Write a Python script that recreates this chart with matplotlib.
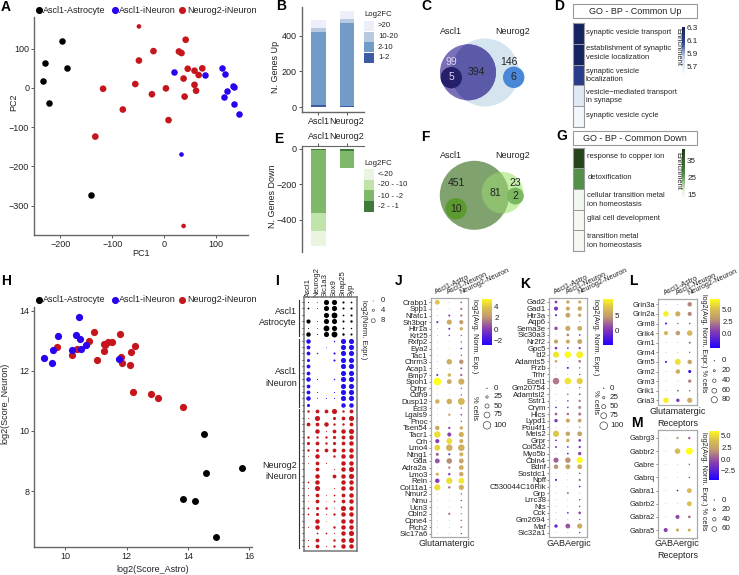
import numpy as np
import matplotlib
matplotlib.use("Agg")
import matplotlib.pyplot as plt
from matplotlib.colors import LinearSegmentedColormap
from matplotlib.patches import Circle, Rectangle
from matplotlib.transforms import ScaledTranslation

plt.rcParams['font.family'] = ['Liberation Sans', 'DejaVu Sans']
plt.rcParams['axes.unicode_minus'] = True

W, H = 739, 575
BLACK, BLUE, RED = '#000000', '#2a00f0', '#c4161c'
TXT = '#222222'

# --- A : PCA
a_black_x = [-198, -230, -233, -188, -222, -141]
a_black_y = [119, 63, 19, 52, -38, -273]
a_blue_x = [19, 79, 111, 116, 132, 135, 121, 115, 135, 143, 32]
a_blue_y = [40, 32, 52, 36, 5, 3, -9, -24, -42, -66, -168]
a_red_x = [-49, 41, -21, 28, 33, -49, 45, 73, 58, 66, 37, -56, 58, -118, 3, 61, -24, 39, -80, 8, -133, 37]
a_red_y = [157, 123, 94, 93, 89, 70, 49, 50, 44, 33, 24, 10, 8, -2, -1, -7, -16, -22, -55, -82, -124, -352]

# --- H : scores
h_black_x = [14.51, 15.75, 14.6, 13.85, 14.23, 14.91]
h_black_y = [9.89, 8.76, 8.6, 7.74, 7.66, 6.48]
h_blue_x = [10.46, 9.75, 10.35, 10.48, 10.68, 9.61, 10.23, 10.52, 9.29, 9.57, 11.76]
h_blue_y = [13.78, 13.17, 13.19, 13.04, 12.87, 12.68, 12.68, 12.71, 12.42, 12.27, 12.4]
h_red_x = [9.74, 10.95, 10.77, 10.37, 10.23, 11.04, 11.79, 11.26, 11.39, 11.52, 11.28, 11.25, 11.82, 11.86,
           12.12, 12.15, 12.29, 12.2, 12.8, 13.04, 13.83]
h_red_y = [12.8, 13.28, 12.98, 12.74, 12.52, 12.36, 13.21, 12.89, 12.94, 12.94, 12.86, 12.66, 12.46, 12.27,
           12.18, 12.61, 12.81, 11.31, 11.22, 11.09, 10.8]

# --- B / E : stacked bars
bar_names = ['Ascl1', 'Neurog2']
up_1_2 = [9, 6]
up_2_10 = [415, 465]
up_10_20 = [19, 25]
up_gt20 = [49, 45]
up_colors = ['#3d5aa6', '#729bc8', '#b7cae0', '#eceffa']
up_labels = ['>20', '10-20', '2-10', '1-2']
down_1_2 = [-10, -15]
down_2_10 = [-349, -91]
down_10_20 = [-103, -2]
down_gt20 = [-84, 0]
down_colors = ['#3f7a3a', '#7fb868', '#bfe3a8', '#eaf5e0']
down_labels = ['<-20', '-20 - -10', '-10 - -2', '-2 - -1']

# --- D / G : GO heatmaps
d_terms = ['synaptic vesicle transport', 'establishment of synaptic\nvesicle localization',
           'synaptic vesicle\nlocalization', 'vesicle\u2212mediated transport\nin synapse', 'synaptic vesicle cycle']
d_enrich = [6.3, 6.3, 6.12, 5.72, 5.62]
g_terms = ['response to copper ion', 'detoxification', 'cellular transition metal\nion homeostasis',
           'glial cell development', 'transition metal\nion homeostasis']
g_enrich = [40, 27, 15, 14, 14]

# --- I : marker dots
i_cols = ['Ascl1', 'Neurog2', 'Slc1a3', 'Sox9', 'Snap25', 'Syp']
i_astro = [[1, .3, 7, 7, 2.5, 2], [2, .5, 7, 7, 2.5, 2.5], [0, 0, 7, 8, 2, 2.5],
           [5.5, .5, 7, 7, 2.5, 3], [1, .3, 8, 7, 2, 1.5], [6, 1, 7, 8, 3, 2.5]]
i_ascl = [[6, 0, 0, 1.5, 7, 7], [5, 0, .3, 0, 7, 7], [5, 1.5, 0, 2.5, 7, 7], [4, 0, 0, 2.5, 7, 7],
          [5, 0, 0, 0, 7, 7], [5, 0, 0, 0, 7, 7], [6, .8, 0, 1.5, 7, 7], [5, 0, 0, 0, 7, 7],
          [5, 1, 0, 1, 7, 7], [6, .5, 1, 1, 7, 7], [4, 0, 0, 0, 6, 6]]
i_neurog = [[3, 5, 5, 7, 3, 5], [1, 7, 0, 4, 5, 7], [5, 5, 6, 3, 3, 5], [0, 6, 1, 5, 6, 7], [3, 3, 3, 4, 5, 6],
            [4, 5, 3, 4, 5, 6], [3, 4, 5, 5, 5, 6], [.5, 6, 0, 3, 6, 6], [.5, 5, 1, 0, 6, 6], [0, 5, 0, 1, 6, 7],
            [0, 6, 0, 5, 6, 7], [2, 6, 0, 0, 6, 6], [.7, 7, 0, 1, 6, 6], [1, 5, .5, 2, 5, 6], [.3, 5, .3, 2, 5, 6],
            [2, 4, 3, .5, 7, 6], [2, 4, 1, 3, 6, 6], [0, 6, .2, 0, 6, 6], [1, 6, 0, 3, 6, 6], [0, 2, 2, 1, 6, 7],
            [1, 5, 0, 3, 6, 7], [1.5, 5, 1, 3, 6, 6]]

# --- J .. M : dot plots
dot_cols = ['Ascl1-Astro', 'Ascl1-Neuron', 'Neurog2-Neuron']
j_genes = ['Crabp1', 'Spp1', 'Nfatc1', 'Sh3bgr', 'Htr1a', 'Krt25', 'Rxfp2', 'Eya2', 'Tac1', 'Chrm3', 'Acap1', 'Bmp7',
           'Spon1', 'Qrfpr', 'Cdh9', 'Dusp12', 'Ecl3', 'Lgals9', 'Pnoc', 'Tsen54', 'Tacr1', 'Crh', 'Lmo4', 'Ntng1',
           'Gda', 'Adra2a', 'Lmo3', 'Reln', 'Col11a1', 'Nmur2', 'Nmu', 'Ucn3', 'Cbln2', 'Cpne4', 'Plch2', 'Slc17a6']
j_pct = [[60, 2, 15], [2, 2, 25], [2, 20, 25], [20, 65, 50], [2, 20, 40], [2, 15, 10], [1, 1, 10], [1, 1, 15], [1, 1, 10],
         [2, 70, 55], [1, 1, 20], [20, 40, 25], [100, 60, 80], [1, 1, 10], [1, 1, 10], [55, 70, 90], [1, 1, 10], [1, 25, 15],
         [1, 1, 10], [55, 25, 40], [85, 50, 65], [50, 75, 50], [75, 85, 85], [35, 20, 50], [60, 70, 60], [1, 25, 60],
         [35, 25, 55], [55, 80, 75], [80, 25, 65], [1, 1, 10], [1, 1, 10], [1, 1, 10], [1, 25, 10], [1, 1, 15], [1, 1, 20],
         [1, 1, 10]]
j_expr = [[3.8, 1, .5], [1, 1, 1.5], [1, -.5, 1.5], [-1.5, 2.8, 2.2], [1, -1, 3], [1, .5, 0], [1, 1, -1], [1, 1, -1], [1, 1, -1],
          [1, 3, 2], [1, 1, .5], [-1, 3.2, 1], [5.4, 2.8, 3], [1, 1, -1], [1, 1, -1], [3, 3, 3.3], [1, 1, -1], [1, 2.5, -.5],
          [1, 1, -1], [2.8, .3, 3], [4.5, .2, 3], [0, 4.5, 3], [4.2, 3, 3], [.8, -1.5, 3.2], [.5, 1.8, 2.5], [1, 1.5, 3],
          [3, -.5, 2.8], [0, 4.5, 4.8], [4.5, 1, 3], [1, 1, -1], [1, 1, -1], [1, 1, -.5], [1, 1.5, 1], [1, 1, 1.5], [1, 1, 2],
          [1, 1, -1.5]]

k_genes = ['Gad2', 'Gad1', 'Htr3a', 'Aqp6', 'Sema3e', 'Slc30a3', 'Nr2f2', 'Gpc5', 'Id2', 'Adamts5', 'Frzb', 'Trhr', 'Ecel1',
           'Gm20754', 'Adamtsl2', 'Sstr1', 'Crym', 'Hlcs', 'Lypd1', 'Pou4f1', 'Meis2', 'Grpr', 'Col5a2', 'Myo5b', 'Cbln4',
           'Bdnf', 'Sostdc1', 'Npff', 'C530044C16Rik', 'Grp', 'Lrrc38', 'Nts', 'Cck', 'Gm2694', 'Maf', 'Slc32a1']
k_pct = [[30, 40, 35], [50, 50, 55], [20, 60, 40], [1, 1, 5], [40, 65, 60], [1, 30, 15], [50, 50, 60], [30, 15, 25],
         [80, 85, 90], [30, 2, 30], [1, 20, 10], [1, 2, 10], [85, 85, 80], [1, 1, 8], [1, 10, 15], [1, 15, 25], [15, 15, 35],
         [30, 25, 35], [40, 50, 45], [1, 1, 8], [80, 55, 60], [15, 40, 30], [20, 15, 25], [1, 15, 40], [65, 70, 80],
         [55, 60, 60], [1, 1, 10], [20, 1, 25], [1, 1, 15], [1, 20, 2], [1, 1, 10], [1, 1, 10], [1, 15, 30], [1, 1, 8],
         [40, 60, 65], [1, 1, 10]]
k_expr = [[0, 5.5, 5.5], [0, 5.5, 5.5], [-2.5, 5, 5], [2, 2, 2], [1, 5.5, 5.5], [2, 3.5, -1], [5, 5.5, 5.2], [0, -2.5, 1],
          [9, 10, 9.5], [5.5, 2, 3], [2, -2.5, -2.5], [2, 2, -2.5], [3, 9, 8], [2, 2, -2.5], [2, -2.5, 0], [2, 1, 3], [-2.5, 0, 3.5],
          [2, 2, 3], [0, 5.5, 5], [2, 2, -1], [7.5, 5, 5], [-2.5, 5.5, 0], [0, -2.5, 0], [2, -3, 1], [2, 4, 10],
          [4, 5, 5.5], [2, 2, -2.5], [-3, 2, 3], [2, 2, -2.5], [2, 3, 2], [2, 2, -2.5], [2, 2, -2.5], [2, -2.5, 1], [2, 2, -2.5],
          [-1, 1.5, 5.5], [2, 2, -2.5]]

l_genes = ['Grin3a', 'Grin2a', 'Grm8', 'Grik4', 'Grm1', 'Grm4', 'Grm5', 'Grm2', 'Grm3', 'Grik1', 'Gria3']
l_pct = [[1, 1, 55], [70, 65, 50], [20, 12, 15], [50, 55, 70], [1, 1, 20], [1, 1, 10], [20, 75, 55], [1, 55, 35], [1, 1, 40],
         [1, 15, 10], [70, 40, 65]]
l_expr = [[1, 1, 2.5], [6.5, 4, 2.5], [-2, 1, 1], [4.5, 3, 4.5], [1, 1, 1.5], [1, 1, -.5], [-2, 6, 3.5], [1, 4, -2], [1, 1, 2.5],
          [1, .5, -1], [6.5, 0, 4]]

m_genes = ['Gabrg3', 'Gabbr2', 'Gabre', 'Gabrq', 'Gabra1', 'Gabrb2', 'Gabra2', 'Gabra5']
m_pct = [[1, 25, 25], [1, 70, 90], [1, 1, 10], [1, 1, 10], [1, 15, 60], [1, 1, 60], [1, 50, 30], [50, 35, 35]]
m_expr = [[1, 2, 0], [1, 3.5, 6], [1, 1, -2.5], [1, 1, -2.5], [1, -3, 3.5], [1, 1, 3.8], [1, -.5, .5], [-.8, 2.5, 3]]

fig = plt.figure(figsize=(W / 100, H / 100), dpi=100)


def ax_px(x0, y0, x1, y1):
    return fig.add_axes([x0 / W, 1 - y1 / H, (x1 - x0) / W, (y1 - y0) / H])


ov = fig.add_axes([0, 0, 1, 1], zorder=10)
ov.set_xlim(0, W)
ov.set_ylim(H, 0)
ov.axis('off')


def T(x, y, s, size=6.5, ha='left', va='center', **kw):
    kw.setdefault('color', TXT)
    ov.text(x, y, s, fontsize=size, ha=ha, va=va, **kw)


# panel letters
for s, x, y in [('A', 6, 7), ('B', 281, 6), ('C', 426, 6), ('D', 559, 6), ('E', 279, 139), ('F', 425, 137), ('G', 562, 136),
                ('H', 6, 281), ('I', 277, 281), ('J', 399, 281), ('K', 525, 284), ('L', 633, 281), ('M', 637, 423)]:
    T(x, y, s, size=10, ha='center', fontweight='bold', color='black')


def scatter_legend(y):
    for cx, tx, c, s in [(38.5, 43.3, BLACK, 'Ascl1-Astrocyte'), (114.7, 119.3, BLUE, 'Ascl1-iNeuron'),
                         (182, 187.7, RED, 'Neurog2-iNeuron')]:
        ov.scatter([cx], [y], s=26, color=c, linewidths=0)
        T(tx, y, s, size=6.5)


def style_axes(ax):
    ax.spines['top'].set_visible(False)
    ax.spines['right'].set_visible(False)
    for k in ['left', 'bottom']:
        ax.spines[k].set_color('#666666')
        ax.spines[k].set_linewidth(1)
    ax.tick_params(length=2, width=.7, labelsize=6.5, color='#555555', labelcolor=TXT, pad=1.5)
    ax.patch.set_alpha(0)


# A
ax = ax_px(34, 17, 248, 235)
ax.set_xlim(-251, 161)
ax.set_ylim(-375, 181)
style_axes(ax)
ax.scatter(a_black_x, a_black_y, s=22, color=BLACK, linewidths=0)
ax.scatter(a_blue_x[:-1], a_blue_y[:-1], s=22, color=BLUE, linewidths=0)
ax.scatter(a_blue_x[-1:], a_blue_y[-1:], s=11, color=BLUE, linewidths=0)
red_sizes = [11] + [23] * 20 + [11]
ax.scatter(a_red_x, a_red_y, s=red_sizes, color=RED, linewidths=0)
ax.set_xticks([-200, -100, 0, 100])
ax.set_yticks([-300, -200, -100, 0, 100])
scatter_legend(10.3)
T(141, 253, 'PC1', ha='center')
T(14, 102, 'PC2', ha='center', rotation=90)

# H
ax = ax_px(34, 306.7, 251.7, 546.7)
ax.set_xlim(8.98, 16.08)
ax.set_ylim(6.15, 14.13)
style_axes(ax)
ax.scatter(h_red_x, h_red_y, s=27, color=RED, linewidths=0, zorder=3)
ax.scatter(h_blue_x, h_blue_y, s=27, color=BLUE, linewidths=0, zorder=4)
ax.scatter(h_black_x, h_black_y, s=25, color=BLACK, linewidths=0, zorder=3)
ax.set_xticks([10, 12, 14, 16])
ax.set_yticks([8, 10, 12, 14])
scatter_legend(300)
T(152.7, 569, 'log2(Score_Astro)', ha='center')
T(5, 403, 'log2(Score_Neuron)', ha='center', rotation=90)


def stacked(ax, series, colors):
    bottom = np.zeros(2)
    for vals, c in zip(series, colors):
        ax.bar([0, 1], vals, width=.5, bottom=bottom, color=c, linewidth=0)
        bottom = bottom + np.array(vals)


# B
ax = ax_px(301.7, 7, 364, 112)
ax.set_xlim(-.589, 1.596)
ax.set_ylim(-28, 563)
style_axes(ax)
stacked(ax, [up_1_2, up_2_10, up_10_20, up_gt20], up_colors)
ax.set_xticks([0, 1], bar_names)
ax.set_yticks([0, 200, 400])
T(275.7, 66.7, 'N. Genes Up', ha='center', rotation=90)
T(364, 15, 'Log2FC', size=5.6)
for i, (lab, c) in enumerate(zip(up_labels, up_colors[::-1])):
    ov.add_patch(Rectangle((364, 21.3 + i * 10.5), 10, 10.2, color=c, lw=0))
    T(378, 25.5 + i * 10.8, lab, size=5.6)

# E
ax = ax_px(301.7, 146, 364, 251.7)
ax.set_xlim(-.589, 1.596)
ax.set_ylim(-578, 15)
style_axes(ax)
ax.spines['bottom'].set_visible(False)
ax.spines['top'].set_visible(True)
ax.spines['top'].set_color('#666666')
stacked(ax, [down_1_2, down_2_10, down_10_20, down_gt20], down_colors)
ax.xaxis.tick_top()
ax.set_xticks([0, 1], bar_names)
ax.set_yticks([-400, -200, 0])
T(272.3, 196.7, 'N. Genes Down', ha='center', rotation=90)
T(364, 163.7, 'Log2FC', size=5.6)
for i, (lab, c) in enumerate(zip(down_labels, down_colors[::-1])):
    ov.add_patch(Rectangle((364, 169 + i * 10.7), 10, 10.5, color=c, lw=0))
    T(378, 174 + i * 11, lab, size=5.6)

# C venn
big = Circle((485, 72.5), 34, color='#d5e5ef', lw=0)
ov.add_patch(big)
ascl = Circle((468, 72.3), 28, color='#7a6fb8', lw=0)
ov.add_patch(ascl)
lens = Circle((468, 72.3), 28, color='#5b5aa8', lw=0)
ov.add_patch(lens)
lens.set_clip_path(Circle((485, 72.5), 34, transform=ov.transData))
ov.add_patch(Circle((451.3, 77.7), 10.7, color='#26206a', lw=0))
ov.add_patch(Circle((513.7, 77.3), 10.7, color='#4a87d6', lw=0))
T(451.7, 61.7, '99', size=7.5, ha='center', color='#ddd8ee')
T(451.3, 77.5, '5', size=7.5, ha='center', color='#ddd8ee')
T(476, 72, '394', size=7.5, ha='center')
T(509, 61.7, '146', size=7.5, ha='center')
T(513.7, 77.3, '6', size=7.5, ha='center')
T(451.3, 31.7, 'Ascl1', ha='center')
T(512.7, 31.7, 'Neurog2', ha='center')

# F venn
ov.add_patch(Circle((502.5, 192.7), 20.8, color='#c5efa8', lw=0))
ov.add_patch(Circle((474.3, 195.3), 34.5, color='#7fa26e', lw=0))
lens2 = Circle((502.5, 192.7), 20.8, color='#8fc06f', lw=0)
ov.add_patch(lens2)
lens2.set_clip_path(Circle((474.3, 195.3), 34.5, transform=ov.transData))
ov.add_patch(Circle((456, 208.7), 10.7, color='#5b9a2e', lw=0))
ov.add_patch(Circle((515.3, 196), 8.5, color='#7cb860', lw=0))
T(456.7, 183.3, '451', size=7.5, ha='center')
T(495, 192.7, '81', size=7.5, ha='center')
T(456, 208.7, '10', size=7.5, ha='center')
T(515.3, 183.3, '23', size=7.5, ha='center')
T(515.3, 196, '2', size=7.5, ha='center')
T(451.3, 156, 'Ascl1', ha='center')
T(512.7, 156, 'Neurog2', ha='center')

cm_d = LinearSegmentedColormap.from_list('d', ['#f6f9ff', '#c9d6ec', '#2d4394', '#14205e'])
cm_g = LinearSegmentedColormap.from_list('g', [(0, '#f6f9f2'), (.12, '#eaf4e2'), (.46, '#549048'), (1, '#1f3a17')])


def colorbar(x0, y0, x1, y1, vmin, vmax, cmap, ticks, labels=None, size=5.5):
    cax = ax_px(x0, y0, x1, y1)
    grad = np.linspace(vmax, vmin, 128).reshape(-1, 1)
    cax.imshow(grad, aspect='auto', cmap=cmap, vmin=vmin, vmax=vmax, extent=[0, 1, vmin, vmax])
    cax.set_xticks([])
    cax.yaxis.tick_right()
    cax.set_yticks(ticks, labels if labels else [str(t) for t in ticks])
    cax.tick_params(length=0, labelsize=size, pad=1.5, labelcolor=TXT)
    for sp in cax.spines.values():
        sp.set_visible(False)
    return cax


def go_heat(box, title, hy0, hy1, vals, terms, label_y, tx, cmap, vmin, vmax):
    ov.add_patch(Rectangle((box[0], box[1]), box[2] - box[0], box[3] - box[1], fc='white', ec='#999999', lw=.8))
    T((box[0] + box[2]) / 2, (box[1] + box[3]) / 2, title, ha='center')
    hax = ax_px(572.7, hy0, 583.7, hy1)
    hax.pcolormesh(np.array(vals).reshape(-1, 1)[::-1], cmap=cmap, vmin=vmin, vmax=vmax, edgecolors='#9a9a9a', linewidth=.5)
    hax.set_xticks([])
    hax.set_yticks([])
    for sp in hax.spines.values():
        sp.set_color('#9a9a9a')
    for s, y in zip(terms, label_y):
        T(tx, y, s, size=5.4, linespacing=1.25)


# D
go_heat((572.7, 4.3, 697.3, 17.7), 'GO - BP - Common Up', 23.3, 126.7, d_enrich, d_terms,
        [32.7, 53, 75.5, 96.3, 115.3], 586, cm_d, 5.6, 6.32)
colorbar(682.3, 26.7, 685, 72.7, 5.6, 6.32, cm_d, [5.7, 5.9, 6.1, 6.3], size=5.8)
T(677.5, 47, 'Enrichment', size=5.4, ha='center', rotation=270)

# G
go_heat((572.7, 131.3, 697.3, 145), 'GO - BP - Common Down', 147.7, 251, g_enrich, g_terms,
        [157, 177.7, 200, 219, 241], 587.3, cm_g, 14, 42)
colorbar(682.3, 149, 685, 196.7, 14, 42, cm_g, [15, 25, 35], size=5.8)
T(677.5, 171, 'Enrichment', size=5.4, ha='center', rotation=270)

# I
i_rows = i_astro + i_ascl + i_neurog
i_colors = [BLACK] * len(i_astro) + ['#2410ee'] * len(i_ascl) + [RED] * len(i_neurog)
ax = ax_px(304, 297.3, 356.7, 551.3)
dx, dr = 8.6, 6.43
ax.set_xlim((304 - 308.3) / dx, (356.7 - 308.3) / dx)
ax.set_ylim((551.3 - 302) / dr, (297.3 - 302) / dr)
for r, (row, c) in enumerate(zip(i_rows, i_colors)):
    for k, v in enumerate(row):
        if v > 0:
            ax.scatter(k, r, s=(.72 * (.4 + .68 * v)) ** 2, color=c, linewidths=0, clip_on=False)
ax.xaxis.tick_top()
ax.set_xticks(range(6), i_cols, rotation=90, fontsize=5.6, color=TXT)
ax.set_yticks(range(len(i_rows)), [])
ax.tick_params(axis='x', length=0, pad=.5)
ax.tick_params(axis='y', length=1.3, width=.8, color='#333333')
for sp in ax.spines.values():
    sp.set_color('#777777')
    sp.set_linewidth(1.1)
start = 0
for group in [i_astro, i_ascl, i_neurog]:
    ax.plot([-.104, -.104], [start - .3, start + len(group) - .7], transform=ax.get_yaxis_transform(),
            clip_on=False, color='#333333', lw=.8)
    start += len(group)
T(296.7, 311.7, 'Ascl1', ha='right')
T(296.7, 322.7, 'Astrocyte', ha='right')
T(296.7, 371.7, 'Ascl1', ha='right')
T(296.7, 383.3, 'iNeuron', ha='right')
T(296.7, 465, 'Neurog2', ha='right')
T(296.7, 476.3, 'iNeuron', ha='right')
T(363, 330, 'log2(Norm. Expr.)', size=5.4, ha='center', rotation=270)
for y, v in zip([301, 310.3, 320.7], [0, 4, 8]):
    ov.scatter([373.3], [y], s=(.72 * (.4 + .45 * v)) ** 2, facecolor='none', edgecolor='#555555', linewidths=.5)
    T(380.7, y, str(v), size=5.5)

cm_dot = LinearSegmentedColormap.from_list('dot', [(0, '#2200ff'), (.35, '#8a3fb0'), (.6, '#c09a70'), (.8, '#dcc050'), (1, '#ffff1a')])


def dot_area(p):
    return (.72 * (.6 + .07 * np.asarray(p, dtype=float))) ** 2


def dotplot(box, col0, cdx, row0, rdr, genes, pct, expr, vmin, vmax, lab_size=5.6, show_cols=True):
    x0, y0, x1, y1 = box
    dax = ax_px(x0, y0, x1, y1)
    dax.set_xlim((x0 - col0) / cdx, (x1 - col0) / cdx)
    dax.set_ylim((y1 - row0) / rdr, (y0 - row0) / rdr)
    xs, ys = np.meshgrid(range(3), range(len(genes)))
    dax.scatter(xs.ravel(), ys.ravel(), s=dot_area(pct).ravel(), c=np.array(expr, dtype=float).ravel(),
                cmap=cm_dot, vmin=vmin, vmax=vmax, linewidths=0, clip_on=False)
    dax.xaxis.tick_top()
    if show_cols:
        dax.set_xticks(range(3), dot_cols, rotation=25, ha='left', rotation_mode='anchor', fontsize=5.2, color=TXT)
        shift = ScaledTranslation(-4.5 / 100, 0, fig.dpi_scale_trans)
        for lab in dax.get_xticklabels():
            lab.set_transform(lab.get_transform() + shift)
    else:
        dax.set_xticks([])
    dax.set_yticks(range(len(genes)), genes, fontsize=lab_size, color=TXT)
    dax.tick_params(axis='x', length=0, pad=1.5)
    dax.tick_params(axis='y', length=1.2, width=.5, pad=1, color='#555555')
    for sp in dax.spines.values():
        sp.set_color('#aaaaaa')
        sp.set_linewidth(.9)
    return dax


def size_legend(x, tx, ys, vals):
    for y, v in zip(ys, vals):
        ov.scatter([x], [y], s=dot_area(v), facecolor='none', edgecolor='#444444', linewidths=.5)
        T(tx, y, str(v), size=5.8)


# J
dotplot((430.7, 298.3, 468.3, 537.3), 437.3, 12, 302.3, 6.61, j_genes, j_pct, j_expr, -2.8, 5.4)
colorbar(482.3, 298.7, 492, 345, -2.8, 5.4, cm_dot, [-2, 0, 2, 4], ['\u22122', '0', '2', '4'], size=5.8)
T(474.3, 336, 'log2(Avg. Norm. Exp.)', size=5.4, ha='center', rotation=270)
T(474.3, 408, '% cells', size=5.4, ha='center', rotation=270)
size_legend(487, 493.7, [388.3, 397, 406, 415, 425.3], [0, 25, 50, 75, 100])
T(446.7, 544, 'Glutamatergic', ha='center')

# K
dotplot((549, 298.3, 586.7, 536.7), 556, 11.85, 302, 6.59, k_genes, k_pct, k_expr, -4.5, 10.2)
colorbar(603.3, 298.7, 612.7, 345, -4.5, 10.2, cm_dot, [0, 5], ['0', '5'], size=5.8)
T(596, 336.7, 'log2(Avg. Norm. Expr.)', size=5.4, ha='center', rotation=270)
T(596, 402, '% cells', size=5.4, ha='center', rotation=270)
size_legend(603.7, 610, [388.3, 397.7, 406.7, 415.7, 425.7], [0, 25, 50, 75, 100])
T(569.3, 544, 'GABAergic', ha='center')

# L
dotplot((658.3, 299, 696.7, 405), 666, 11.85, 304.3, 9.6, l_genes, l_pct, l_expr, -2.85, 7, lab_size=5.4)
colorbar(710, 299.3, 720, 347.7, -2.85, 7, cm_dot, [0, 2.5, 5], ['0.0', '2.5', '5.0'], size=5.5)
T(703.3, 342.7, 'log2(Avg. Norm. Expr.) % cells', size=5.2, ha='center', rotation=270)
size_legend(714.3, 721.5, [360.7, 370.7, 380.7, 390.7, 399.7], [0, 20, 40, 60, 80])
T(677.3, 412, 'Glutamatergic', ha='center')
T(677.3, 423, 'Receptors', ha='center')

# M
dotplot((658.3, 430, 696.7, 537.7), 665.7, 11.8, 438, 13.15, m_genes, m_pct, m_expr, -4.5, 6, lab_size=5.4, show_cols=False)
colorbar(709.3, 431, 719, 480.3, -4.5, 6, cm_dot, [-2.5, 0, 2.5, 5], ['\u22122.5', '0.0', '2.5', '5.0'], size=5.5)
T(703.3, 481.3, 'log2(Avg. Norm. Expr.) % cells', size=5.2, ha='center', rotation=270)
size_legend(714.3, 721.7, [500, 509.7, 519.3, 529], [0, 20, 40, 60])
T(677.3, 544, 'GABAergic', ha='center')
T(677.3, 555, 'Receptors', ha='center')

fig.savefig('out.png', dpi=100)
